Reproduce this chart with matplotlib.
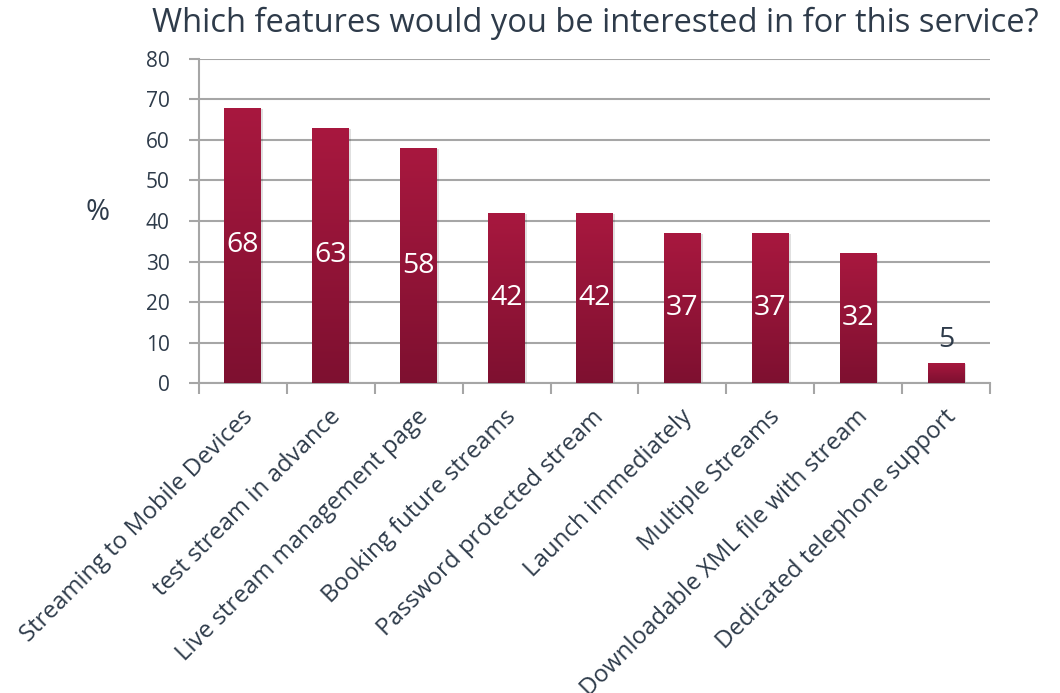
import matplotlib
matplotlib.use("Agg")
import matplotlib.pyplot as plt
import numpy as np
from matplotlib.colors import LinearSegmentedColormap

categories = ["Streaming to Mobile Devices", "test stream in advance",
              "Live stream management page", "Booking future streams",
              "Password protected stream", "Launch immediately",
              "Multiple Streams", "Downloadable XML file with stream",
              "Dedicated telephone support"]
values = [68, 63, 58, 42, 42, 37, 37, 32, 5]
yticks = [0, 10, 20, 30, 40, 50, 60, 70, 80]

plt.rcParams['font.family'] = ['Open Sans', 'DejaVu Sans']
text_col = "#2E3B4A"
grid_col = "#A6A6A6"

fig = plt.figure(figsize=(10.6, 6.93), dpi=100)
ax = fig.add_axes([0.1877, 0.4473, 0.7463, 0.4676])

x = np.arange(len(categories))
bars = ax.bar(x, values, width=0.42, color="#9A1840", zorder=3)

cmap = LinearSegmentedColormap.from_list("g", ["#7E1030", "#A8183F"])
grad = np.linspace(0, 1, 256).reshape(-1, 1)
for b in bars:
    x0, y0 = b.get_x(), b.get_y()
    w, h = b.get_width(), b.get_height()
    ax.bar(x0 + w / 2 + 0.02, h, width=w, bottom=-0.3, color="#000000", alpha=0.12, zorder=2)
    im = ax.imshow(grad, extent=[x0, x0 + w, y0, y0 + h], origin="lower",
                   cmap=cmap, aspect="auto", zorder=4)
    im.set_clip_path(b)

for xi, v in zip(x, values):
    if v >= 20:
        ax.text(xi, v / 2, str(v), ha="center", va="center", color="white",
                fontsize=20.5, zorder=5)
    else:
        ax.text(xi, v + 5.5, str(v), ha="center", va="center", color=text_col,
                fontsize=20.5, zorder=5)

ax.set_xlim(-0.5, len(categories) - 0.5)
ax.set_ylim(0, 80)
ax.set_yticks(yticks)
ax.set_yticklabels([str(t) for t in yticks], fontsize=15, color=text_col)
ax.yaxis.grid(True, color=grid_col, linewidth=1.5, zorder=0)
ax.set_axisbelow(True)

ax.set_xticks(np.arange(len(categories) + 1) - 0.5, minor=False)
ax.set_xticklabels([])
ax.tick_params(axis="x", length=8, color=grid_col, width=1.5, direction="out")
ax.tick_params(axis="y", length=7, color=grid_col, width=1.5, direction="out", pad=14)

for xi, c in zip(x, categories):
    ax.text(xi + 0.07, -7.5, c, rotation=45, rotation_mode="anchor",
            ha="right", va="center", fontsize=17.3, color=text_col,
            transform=ax.transData, clip_on=False)

for s in ["top", "right"]:
    ax.spines[s].set_visible(False)
for s in ["left", "bottom"]:
    ax.spines[s].set_color(grid_col)
    ax.spines[s].set_linewidth(1.5)

fig.text(0.092, 0.693, "%", fontsize=21, color=text_col, ha="center", va="center")
fig.text(0.562, 0.966, "Which features would you be interested in for this service?",
         fontsize=23.5, color=text_col, ha="center", va="center")

fig.savefig("out.png", dpi=100)
